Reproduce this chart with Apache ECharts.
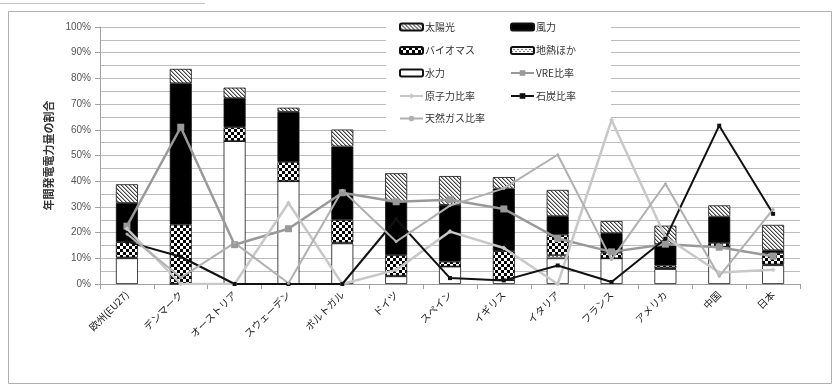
<!DOCTYPE html>
<html>
<head>
<meta charset="utf-8">
<script src="https://cdn.jsdelivr.net/npm/echarts@6/dist/echarts.min.js"></script>
<style>
  html, body { margin: 0; padding: 0; background: #fff; }
  #chart { width: 838px; height: 385px; }
</style>
</head>
<body>
<div id="chart"></div>
<script>
// Categories (countries / regions)
const categories = ['欧州(EU27)', 'デンマーク', 'オーストリア', 'スウェーデン', 'ポルトガル', 'ドイツ', 'スペイン', 'イギリス', 'イタリア', 'フランス', 'アメリカ', '中国', '日本'];

// Stacked generation shares (%)
const hydro   = [10.0, 0.1, 55.6, 40.0, 15.8, 3.0, 6.8, 1.5, 10.0, 10.0, 5.8, 14.5, 7.3];
const geo     = [0.3, 0, 0, 0, 0.3, 0.2, 0, 0, 1.2, 0, 0.4, 0, 0.3];
const biomass = [6.0, 23.0, 5.4, 7.5, 8.8, 8.0, 1.9, 11.3, 8.0, 2.2, 1.0, 1.5, 4.5];
const wind    = [15.2, 55.0, 11.3, 19.5, 28.6, 20.8, 22.1, 24.3, 7.2, 7.6, 8.3, 10.2, 1.0];
const solar   = [7.3, 5.6, 4.1, 1.6, 6.6, 11.1, 11.2, 4.5, 10.2, 4.7, 7.2, 4.4, 9.9];

// Ratio lines (%)
const vreRatio     = [22.5, 61.0, 15.3, 21.5, 35.5, 32.0, 32.8, 29.2, 17.7, 12.5, 15.5, 14.3, 10.8];
const nuclearRatio = [21.5, 0, 0, 31.5, 0, 5.5, 20.4, 14.0, 0, 63.8, 18.3, 4.5, 5.5];
const coalRatio    = [16.5, 10.6, 0, 0, 0, 25.2, 2.3, 1.4, 7.2, 0.8, 17.6, 61.6, 27.3];
const gasRatio     = [19.5, 2.5, 16.0, 0.3, 36.5, 16.5, 30.5, 37.2, 50.3, 9.5, 39.0, 3.0, 29.0];

const FONT = '"Noto Sans CJK JP", "Noto Sans", sans-serif';

function makePattern(w, h, draw) {
  const c = document.createElement('canvas');
  c.width = w; c.height = h;
  const ctx = c.getContext('2d');
  draw(ctx);
  return { image: c, repeat: 'repeat' };
}

// diagonal hatch for solar
const solarFill = makePattern(4, 4, ctx => {
  ctx.fillStyle = '#fff'; ctx.fillRect(0, 0, 4, 4);
  for (let i = 0; i < 4; i++) {
    ctx.fillStyle = '#444'; ctx.fillRect(i, i, 1, 1);
    ctx.fillStyle = '#aaa'; ctx.fillRect((i + 1) % 4, i, 1, 1);
  }
});
// checkerboard for biomass
const bioFill = makePattern(6, 6, ctx => {
  ctx.fillStyle = '#000'; ctx.fillRect(0, 0, 6, 6);
  ctx.fillStyle = '#fff'; ctx.fillRect(0, 0, 3, 3); ctx.fillRect(3, 3, 3, 3);
});
// light dotted hatch for geothermal & others
const geoFill = makePattern(4, 4, ctx => {
  ctx.fillStyle = '#fff'; ctx.fillRect(0, 0, 4, 4);
  ctx.fillStyle = '#777'; ctx.fillRect(0, 0, 2, 1); ctx.fillRect(2, 2, 2, 1);
});

function barSeries(name, data, fill) {
  return {
    name, type: 'bar', stack: 'gen', data, barWidth: 22,
    itemStyle: { color: fill, borderColor: '#111', borderWidth: 0.8 },
    emphasis: { disabled: true }, z: 2
  };
}
function lineSeries(name, data, color, width, symbol, size) {
  return {
    name, type: 'line', data, symbol, symbolSize: size, showSymbol: true,
    lineStyle: { color, width }, itemStyle: { color },
    emphasis: { disabled: true }, z: 3
  };
}

// legend entries: [name, left, top]
const legendSpots = [
  ['太陽光', 399, 22], ['風力', 510, 22],
  ['バイオマス', 399, 45.5], ['地熱ほか', 510, 45.5],
  ['水力', 399, 68], ['VRE比率', 510, 68],
  ['原子力比率', 399, 91], ['石炭比率', 510, 91],
  ['天然ガス比率', 399, 113.5]
];

const chart = echarts.init(document.getElementById('chart'), null, { renderer: 'canvas' });
chart.setOption({
  animation: false,
  backgroundColor: '#fff',
  textStyle: { fontFamily: FONT },
  grid: { left: 100, right: 38, top: 27, bottom: 101, containLabel: false },
  legend: legendSpots.map(([name, left, top]) => ({
    data: [name], left, top, padding: 0, itemWidth: 23, itemHeight: 7, itemGap: 0,
    selectedMode: false, textStyle: { fontSize: 10, color: '#333', fontFamily: FONT, padding: [0, 0, 0, -3] }
  })),
  graphic: [
    { type: 'line', shape: { x1: 0, y1: 3.5, x2: 205, y2: 3.5 }, style: { stroke: '#c4c4c4', lineWidth: 1 }, silent: true },
    { type: 'rect', shape: { x: 8.5, y: 11.5, width: 823, height: 372 }, style: { fill: 'none', stroke: '#b0b0b0', lineWidth: 1 }, silent: true },
    { type: 'rect', z: 1, shape: { x: 386, y: 14, width: 225, height: 119 }, style: { fill: '#fff' }, silent: true }
  ],
  xAxis: {
    type: 'category', data: categories, boundaryGap: true,
    axisLine: { lineStyle: { color: '#a0a0a0' } },
    axisTick: { show: true, length: 5, lineStyle: { color: '#a0a0a0' } },
    axisLabel: { rotate: 45, interval: 0, fontSize: 10, color: '#222', margin: 9, fontFamily: FONT }
  },
  yAxis: {
    type: 'value', min: 0, max: 100, interval: 10,
    name: '年間発電電力量の割合', nameLocation: 'middle', nameRotate: 90, nameGap: 40,
    nameTextStyle: { fontSize: 11, fontWeight: 'bold', color: '#333', fontFamily: FONT },
    axisLine: { show: true, lineStyle: { color: '#a0a0a0' } },
    axisTick: { show: true, length: 5, lineStyle: { color: '#a0a0a0' } },
    axisLabel: { formatter: '{value}%', fontSize: 10, color: '#555', margin: 9, fontFamily: 'Liberation Sans, Arial, sans-serif' },
    splitLine: { show: true, lineStyle: { color: '#bdbdbd', width: 1 } },
    minorTick: { show: false, splitNumber: 2 },
    minorSplitLine: { show: true, lineStyle: { color: '#bdbdbd', width: 1 } }
  },
  series: [
    barSeries('水力', hydro, '#ffffff'),
    barSeries('地熱ほか', geo, geoFill),
    barSeries('バイオマス', biomass, bioFill),
    barSeries('風力', wind, '#000000'),
    barSeries('太陽光', solar, solarFill),
    lineSeries('VRE比率', vreRatio, '#999999', 2.5, 'rect', 7),
    lineSeries('原子力比率', nuclearRatio, '#c8c8c8', 2.5, 'diamond', 5),
    lineSeries('石炭比率', coalRatio, '#111111', 2, 'rect', 4),
    lineSeries('天然ガス比率', gasRatio, '#b0b0b0', 2, 'circle', 3)
  ]
});
</script>
</body>
</html>
